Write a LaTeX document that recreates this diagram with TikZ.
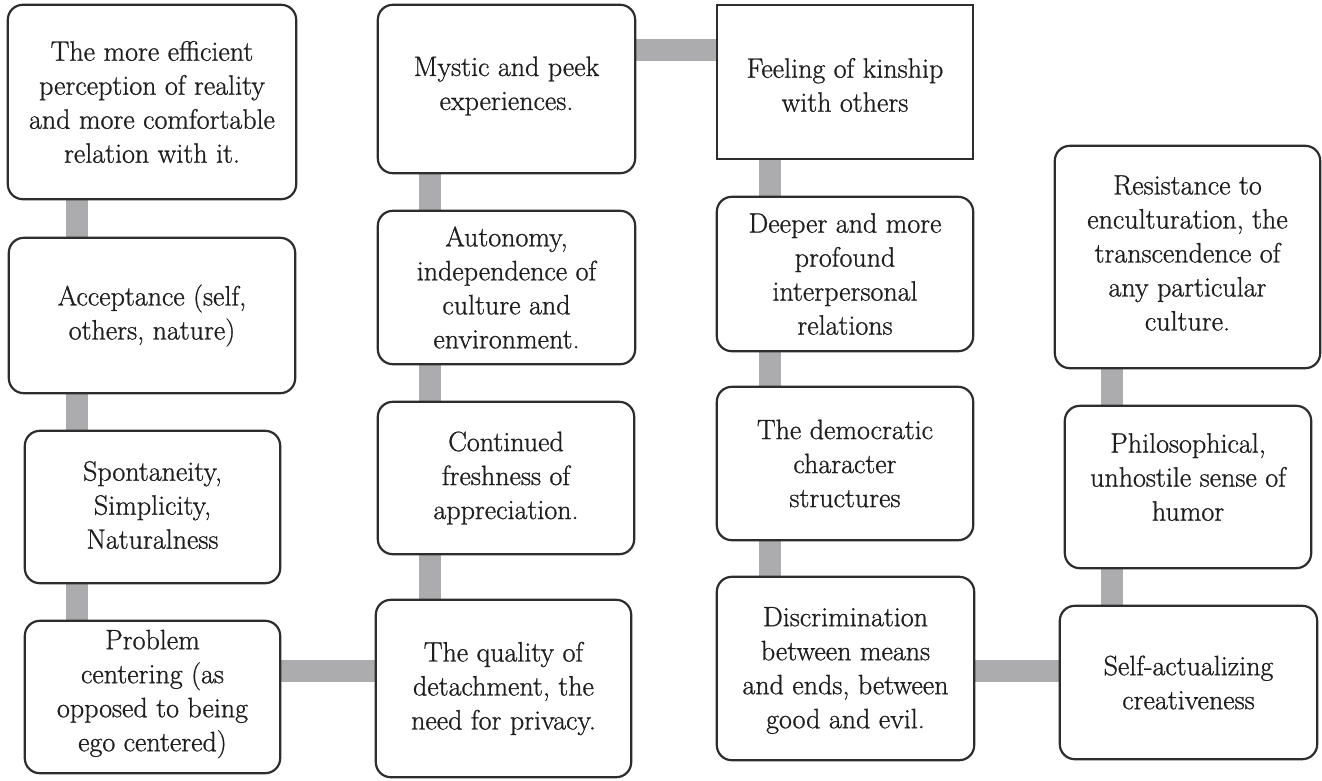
\documentclass[tikz,border=0pt]{standalone}
\usepackage{fontspec}
\setmainfont{Latin Modern Roman}[FakeBold=0.9]
\definecolor{boxline}{RGB}{45,45,45}
\definecolor{linkgray}{RGB}{172,172,174}
\definecolor{ink}{RGB}{30,30,30}
\begin{document}
\begin{tikzpicture}[x=1pt,y=-1pt,
  box/.style={draw=boxline, line width=2.2pt, rounded corners=15pt, fill=white, inner sep=0pt},
  sqbox/.style={box, sharp corners},
  frame/.style={inner sep=0pt},
  link/.style={draw=linkgray, line width=22pt},
  txt/.style={align=center, font=\fontsize{28}{34}\selectfont, text=ink, inner sep=0pt}]
\useasboundingbox (0,0) rectangle (1322,781);

% columns and rows on which the connecting bars run
\coordinate (col1) at (77,0);
\coordinate (col2) at (430,0);
\coordinate (col3) at (769.5,0);
\coordinate (col4) at (1112,0);
\coordinate (rowDE) at (0,670.5);
\coordinate (rowHI) at (0,50);
\coordinate (rowLM) at (0,670.5);

% box frames (sizes and centres)
\node[frame, minimum width=288, minimum height=194] (A) at (152,102) {};
\node[frame, minimum width=286, minimum height=155] (B) at (152,315.5) {};
\node[frame, minimum width=255, minimum height=152] (C) at (152.5,507) {};
\node[frame, minimum width=255, minimum height=152] (D) at (152.5,697) {};
\node[frame, minimum width=255, minimum height=177] (E) at (503.5,688.5) {};
\node[frame, minimum width=256, minimum height=152] (F) at (506,478) {};
\node[frame, minimum width=257, minimum height=153] (G) at (506.5,287.5) {};
\node[frame, minimum width=257, minimum height=168] (H) at (506.5,89) {};
\node[frame, minimum width=256, minimum height=154] (I) at (845,82) {};
\node[frame, minimum width=256, minimum height=154] (J) at (845,274) {};
\node[frame, minimum width=256, minimum height=153] (K) at (845,463.5) {};
\node[frame, minimum width=257, minimum height=183] (L) at (845.5,668.5) {};
\node[frame, minimum width=257, minimum height=153] (M) at (1188.5,682.5) {};
\node[frame, minimum width=246, minimum height=162] (N) at (1188,487) {};
\node[frame, minimum width=265, minimum height=222] (O) at (1187.5,257) {};

% connecting bars, drawn first so the boxes cover their ends
\draw[link] (A.south -| col1) -- (B.north -| col1);
\draw[link] (B.south -| col1) -- (C.north -| col1);
\draw[link] (C.south -| col1) -- (D.north -| col1);
\draw[link] (D.east |- rowDE) -- (E.west |- rowDE);
\draw[link] (E.north -| col2) -- (F.south -| col2);
\draw[link] (F.north -| col2) -- (G.south -| col2);
\draw[link] (G.north -| col2) -- (H.south -| col2);
\draw[link] (H.east |- rowHI) -- (I.west |- rowHI);
\draw[link] (I.south -| col3) -- (J.north -| col3);
\draw[link] (J.south -| col3) -- (K.north -| col3);
\draw[link] (K.south -| col3) -- (L.north -| col3);
\draw[link] (L.east |- rowLM) -- (M.west |- rowLM);
\draw[link] (M.north -| col4) -- (N.south -| col4);
\draw[link] (N.north -| col4) -- (O.south -| col4);

% box outlines
\foreach \b in {A,B,C,D,E,F,G,H,J,K,L,M,N,O}
  \draw[box] (\b.north west) rectangle (\b.south east);
\draw[sqbox] (I.north west) rectangle (I.south east);

% texts
\node[txt] (tA) at (A) {The more efficient\\perception of reality\\and more comfortable\\relation with it.};
\node[txt] (tB) at (B) {Acceptance (self,\\others, nature)};
\node[txt] (tC) at ([yshift=2]C.center) {Spontaneity,\\Simplicity,\\Naturalness};
\node[txt] (tD) at ([yshift=3]D.center) {Problem\\centering (as\\opposed to being\\ego centered)};
\node[txt] (tE) at (E) {The quality of\\detachment, the\\need for privacy.};
\node[txt] (tF) at (F) {Continued\\freshness of\\appreciation.};
\node[txt] (tG) at (G) {Autonomy,\\independence of\\culture and\\environment.};
\node[txt] (tH) at ([yshift=3]H.center) {Mystic and peek\\experiences.};
\node[txt] (tI) at ([yshift=-3]I.center) {Feeling of kinship\\with others};
\node[txt] (tJ) at (J) {Deeper and more\\profound\\interpersonal\\relations};
\node[txt] (tK) at (K) {The democratic\\character\\structures};
\node[txt] (tL) at ([yshift=-2]L.center) {Discrimination\\between means\\and ends, between\\good and evil.};
\node[txt] (tM) at (M) {Self-actualizing\\creativeness};
\node[txt] (tN) at ([yshift=10]N.center) {Philosophical,\\unhostile sense of\\humor};
\node[txt] (tO) at ([yshift=4]O.center) {Resistance to\\enculturation, the\\transcendence of\\any particular\\culture.};
\end{tikzpicture}
\end{document}
